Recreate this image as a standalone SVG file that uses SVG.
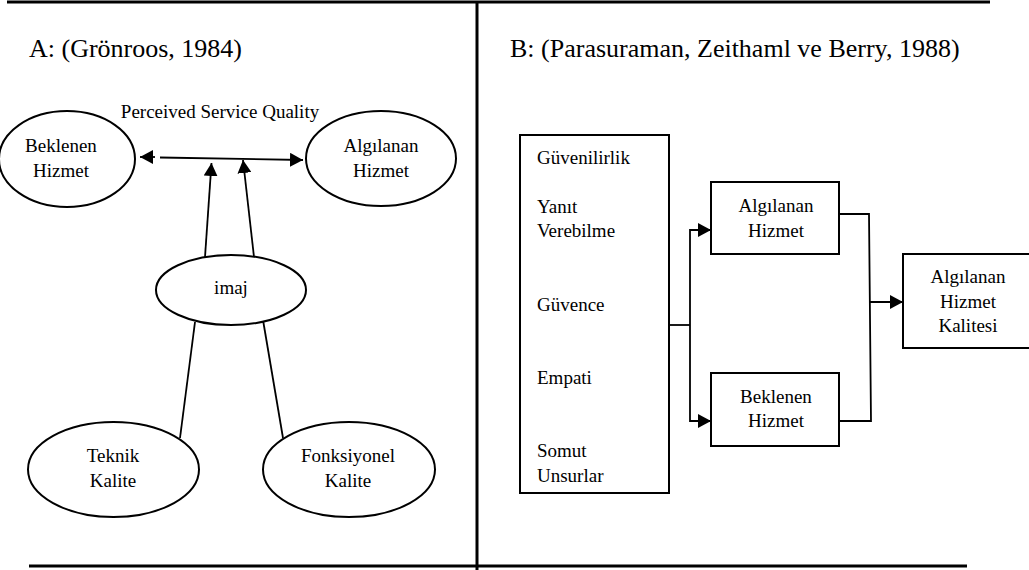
<svg xmlns="http://www.w3.org/2000/svg" width="1029" height="570" viewBox="0 0 1029 570">
<style>
text{font-family:"Liberation Serif","Times New Roman",serif;fill:#000}
.t{font-size:19px}
.h{font-size:26px}
.c{text-anchor:middle}
.n{fill:#fff;stroke:#000;stroke-width:2}
.l{fill:none;stroke:#000;stroke-width:1.8}
.r{fill:none;stroke:#000;stroke-width:3}
</style>
<defs>
<marker id="ah" viewBox="0 0 13 14" refX="13" refY="7" markerWidth="13" markerHeight="14" markerUnits="userSpaceOnUse" orient="auto">
<path d="M0,0 L13,7 L0,14 z" fill="#000"/>
</marker>
</defs>
<rect width="1029" height="570" fill="#fff"/>
<g id="frame">
<line class="r" x1="7" y1="2" x2="990" y2="2"/>
<line class="r" x1="477" y1="2" x2="477" y2="570"/>
<line class="r" x1="29" y1="566" x2="967" y2="566"/>
</g>
<g id="titles">
<text class="h" x="29" y="57">A: (Grönroos, 1984)</text>
<text class="h" x="510" y="57">B: (Parasuraman, Zeithaml ve Berry, 1988)</text>
</g>
<g id="connectors">
<line class="l" x1="155" y1="157" x2="140" y2="157" marker-end="url(#ah)"/>
<line class="l" x1="160" y1="157.5" x2="303" y2="160" marker-end="url(#ah)"/>
<line class="l" x1="205" y1="257" x2="211.5" y2="163" marker-end="url(#ah)"/>
<line class="l" x1="254" y1="257" x2="243" y2="160" marker-end="url(#ah)"/>
<line class="l" x1="195" y1="322" x2="180" y2="438"/>
<line class="l" x1="263" y1="320" x2="283" y2="438"/>
<polyline class="l" points="669,325 690,325"/>
<polyline class="l" points="711,230 690,230 690,421 711,421"/>
<line class="l" x1="690" y1="230" x2="711" y2="230" marker-end="url(#ah)"/>
<line class="l" x1="690" y1="421" x2="711" y2="421" marker-end="url(#ah)"/>
<polyline class="l" points="839,214 869,214 871,421 839,421"/>
<line class="l" x1="870" y1="302" x2="903" y2="302" marker-end="url(#ah)"/>
</g>
<g id="psq-label">
<text class="t c" x="220" y="118">Perceived Service Quality</text>
</g>
<g id="beklenen-ellipse">
<ellipse class="n" cx="67" cy="159" rx="68" ry="48"/>
<text class="t c" x="61" y="152">Beklenen</text>
<text class="t c" x="61" y="177">Hizmet</text>
</g>
<g id="algilanan-ellipse">
<ellipse class="n" cx="381" cy="158.5" rx="75" ry="47.5"/>
<text class="t c" x="381" y="152">Algılanan</text>
<text class="t c" x="381" y="177">Hizmet</text>
</g>
<g id="imaj">
<ellipse class="n" cx="231" cy="290" rx="75" ry="35"/>
<text class="t c" x="231" y="294">imaj</text>
</g>
<g id="teknik">
<ellipse class="n" cx="113.5" cy="469.5" rx="85.5" ry="47.5"/>
<text class="t c" x="113" y="462">Teknik</text>
<text class="t c" x="113" y="487">Kalite</text>
</g>
<g id="fonksiyonel">
<ellipse class="n" cx="349" cy="469.5" rx="86" ry="47.5"/>
<text class="t c" x="348" y="462">Fonksiyonel</text>
<text class="t c" x="348" y="487">Kalite</text>
</g>
<g id="dimensions">
<rect class="n" x="520" y="135" width="149" height="358"/>
<text class="t" x="537" y="164">Güvenilirlik</text>
<text class="t" x="537" y="213">Yanıt</text>
<text class="t" x="537" y="237">Verebilme</text>
<text class="t" x="537" y="311">Güvence</text>
<text class="t" x="537" y="384">Empati</text>
<text class="t" x="537" y="457">Somut</text>
<text class="t" x="537" y="482">Unsurlar</text>
</g>
<g id="algilanan-box">
<rect class="n" x="711" y="182" width="128" height="72"/>
<text class="t c" x="776" y="212">Algılanan</text>
<text class="t c" x="776" y="237">Hizmet</text>
</g>
<g id="beklenen-box">
<rect class="n" x="711" y="373" width="128" height="73"/>
<text class="t c" x="776" y="403">Beklenen</text>
<text class="t c" x="776" y="427">Hizmet</text>
</g>
<g id="kalite-box">
<rect class="n" x="903" y="254" width="130" height="94"/>
<text class="t c" x="968" y="283">Algılanan</text>
<text class="t c" x="968" y="308">Hizmet</text>
<text class="t c" x="968" y="332">Kalitesi</text>
</g>
</svg>
